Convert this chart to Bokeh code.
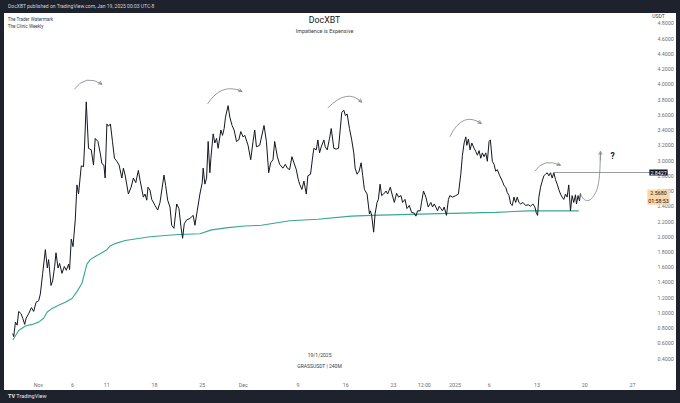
from bokeh.plotting import figure
from bokeh.models import (FixedTicker, NumeralTickFormatter, Label, Arrow, OpenHead,
                          Div, Range1d)
from bokeh.layouts import column, row
from bokeh.embed import file_html
from bokeh.resources import INLINE
from bokeh.core.properties import value

# ---------------- data (days since 2024-11-01 00:00, price in USDT) ----------------
price_day = [-3.75, -3.61, -3.36, -3.11, -2.88, -2.53, -2.29, -2.00, -1.80, -1.42, -1.02, -0.69,
             -0.34, 0.04, 0.29, 0.63, 1.02, 1.31, 1.50, 1.85, 2.09, 2.38, 2.58, 2.88, 3.11, 3.46,
             3.80, 4.09, 4.42, 4.57, 4.82, 5.07, 5.40, 5.65, 5.88, 6.28, 6.61, 6.76, 7.01, 7.34,
             7.74, 8.07, 8.32, 8.72, 9.05, 9.30, 9.59, 9.78, 10.03, 10.26, 10.55, 10.85, 11.14,
             11.49, 11.82, 12.22, 12.45, 12.70, 13.18, 13.58, 13.91, 14.26, 14.64, 14.89, 15.37,
             15.62, 15.87, 16.05, 16.35, 16.60, 17.08, 17.47, 17.81, 18.39, 18.64, 18.93, 19.27,
             19.52, 19.85, 20.25, 20.58, 20.88, 21.12, 21.36, 21.71, 22.19, 22.67, 22.92, 23.26,
             23.65, 23.99, 24.13, 24.38, 24.63, 24.86, 25.11, 25.26, 25.59, 25.84, 26.09, 26.32,
             26.72, 26.96, 27.20, 27.40, 27.78, 28.03, 28.36, 28.66, 29.01, 29.34, 29.64, 29.97,
             30.22, 30.70, 31.09, 31.43, 31.68, 31.93, 32.41, 33.04, 33.39, 33.72, 34.01, 34.35,
             34.60, 34.99, 35.33, 35.81, 36.16, 36.45, 36.79, 37.12, 37.42, 37.77, 38.00, 38.25,
             38.58, 38.88, 39.23, 39.46, 39.85, 40.19, 40.34, 40.69, 40.92, 41.17, 41.42, 41.80,
             42.00, 42.29, 42.63, 42.88, 43.26, 43.61, 43.94, 44.19, 44.42, 44.72, 44.96, 45.21,
             45.55, 45.88, 46.18, 46.38, 46.67, 46.96, 47.26, 47.49, 47.74, 48.13, 48.47, 48.61,
             48.80, 49.09, 49.30, 49.59, 49.78, 50.03, 50.26, 50.55, 50.91, 51.14, 51.53, 51.78,
             52.12, 52.45, 52.74, 53.09, 53.33, 53.68, 53.97, 54.31, 54.64, 55.04, 55.28, 55.52,
             55.91, 56.10, 56.39, 56.74, 57.08, 57.47, 57.71, 57.96, 58.20, 58.44, 58.69, 58.93,
             59.17, 59.42, 59.75, 60.04, 60.25, 60.63, 61.12, 61.50, 61.85, 62.09, 62.34, 62.58,
             62.73, 62.96, 63.21, 63.46, 63.80, 64.04, 64.28, 64.53, 64.77, 65.01, 65.26, 65.50,
             65.74, 65.99, 66.18, 66.47, 66.72, 66.96, 67.20, 67.55, 67.93, 68.18, 68.42, 68.66,
             68.91, 69.15, 69.39, 69.64, 69.88, 70.12, 70.36, 70.61, 70.95, 71.34, 71.72, 72.07,
             72.41, 72.70, 72.89, 73.09, 73.28, 73.53, 73.77, 74.01, 74.26, 74.50, 74.74, 74.99,
             75.23, 75.47, 75.72, 75.96, 76.20, 76.45, 76.69, 76.93, 77.18, 77.42, 77.66, 77.91,
             78.15, 78.39, 78.64, 78.79, 79.02, 79.23, 79.37]
price = [0.73, 0.69, 0.88, 0.84, 1.02, 0.99, 0.93, 0.85, 0.93, 0.99, 1.07, 1.02,
         1.14, 1.16, 1.25, 1.52, 1.83, 1.59, 1.70, 1.36, 1.42, 1.61, 1.79, 1.59, 1.65, 1.52,
         1.61, 1.56, 1.64, 1.57, 1.97, 1.87, 2.22, 2.68, 2.56, 2.93, 2.92, 3.19, 3.77, 3.16,
         3.14, 2.94, 3.29, 3.25, 3.10, 2.96, 2.94, 2.77, 3.48, 3.45, 3.48, 3.25, 3.03,
         2.99, 2.94, 2.77, 2.90, 2.81, 2.56, 2.65, 2.77, 2.71, 2.87, 2.74, 2.52,
         2.56, 2.48, 2.65, 2.61, 2.49, 2.41, 2.35, 2.45, 2.81, 2.67, 2.48, 2.39,
         2.15, 2.11, 2.43, 2.37, 2.13, 1.98, 2.17, 2.22, 2.24, 2.28, 2.15, 2.34,
         2.56, 2.71, 2.90, 2.69, 2.77, 3.25, 2.84, 3.03, 3.35, 3.23, 3.29, 3.16,
         3.40, 3.33, 3.42, 3.57, 3.72, 3.57, 3.46, 3.40, 3.25, 3.27, 3.38, 3.31,
         3.33, 3.20, 3.01, 3.25, 3.40, 3.18, 3.20, 3.46, 3.25, 2.84, 2.97, 3.01,
         3.25, 3.05, 2.95, 2.90, 2.95, 2.90, 2.88, 3.05, 2.97, 2.88, 2.77, 2.69,
         2.62, 2.73, 2.56, 2.80, 2.82, 3.07, 3.16, 3.14, 3.27, 3.10, 3.18, 3.27,
         3.18, 3.14, 3.29, 3.42, 3.16, 3.15, 3.16, 3.40, 3.63, 3.66, 3.59, 3.61,
         3.42, 3.27, 3.10, 2.90, 2.82, 2.86, 2.97, 2.80, 2.62, 2.56, 2.30, 2.34,
         2.28, 2.06, 2.30, 2.45, 2.49, 2.69, 2.54, 2.56, 2.60, 2.56, 2.65, 2.56,
         2.45, 2.57, 2.52, 2.54, 2.45, 2.49, 2.37, 2.41, 2.32, 2.31, 2.27, 2.34,
         2.34, 2.45, 2.60, 2.52, 2.39, 2.45, 2.39, 2.43, 2.39, 2.34, 2.40, 2.37,
         2.34, 2.39, 2.28, 2.49, 2.54, 2.52, 2.54, 2.56, 2.82, 3.07, 3.23, 3.31,
         3.20, 3.28, 3.14, 3.23, 3.16, 3.12, 3.07, 3.13, 3.03, 3.10, 3.05, 3.10,
         2.99, 3.25, 3.27, 2.99, 2.95, 2.86, 2.88, 2.80, 2.73, 2.67, 2.65, 2.58,
         2.54, 2.43, 2.41, 2.52, 2.45, 2.52, 2.45, 2.43, 2.45, 2.41, 2.42, 2.40,
         2.43, 2.39, 2.32, 2.28, 2.52, 2.65, 2.73, 2.80, 2.82, 2.84, 2.80, 2.84,
         2.77, 2.84, 2.75, 2.69, 2.62, 2.56, 2.52, 2.49, 2.56, 2.52, 2.68, 2.34,
         2.54, 2.45, 2.55, 2.43, 2.54, 2.47, 2.568]

vwap_day = [-3.75, -2.88, -1.90, -0.92, 0.04, 0.77, 1.27, 2.00, 2.96, 3.94, 4.92, 5.65, 6.38,
            7.11, 7.59, 8.32, 9.30, 10.03, 10.51, 11.24, 12.70, 14.16, 16.35, 20.48, 23.65,
            25.36, 27.78, 30.22, 32.66, 36.79, 40.92, 45.80, 48.72, 57.23, 62.04, 66.96, 71.82,
            79.12]
vwap = [0.645, 0.77, 0.83, 0.85, 0.88, 0.93, 1.01, 1.06, 1.10, 1.14, 1.19, 1.28, 1.39,
        1.64, 1.70, 1.74, 1.79, 1.83, 1.88, 1.91, 1.95, 1.97, 2.00, 2.03, 2.04,
        2.09, 2.12, 2.14, 2.15, 2.21, 2.23, 2.27, 2.28, 2.30, 2.31, 2.32, 2.34, 2.34]

y_ticks = [0.4, 0.6, 0.8, 1.0, 1.2, 1.4, 1.6, 1.8, 2.0, 2.2, 2.4, 2.6, 2.8, 3.0, 3.2, 3.4,
           3.6, 3.8, 4.0, 4.2, 4.4, 4.6, 4.8]
x_tick_days = [0, 5, 10, 17, 24, 30, 38, 45, 52, 56.5, 61, 66, 73, 80, 87]
x_tick_labels = ["Nov", "6", "11", "18", "25", "Dec", "9", "16", "23", "12:00", "2025",
                 "6", "13", "20", "27"]

last_price = 2.5680
level_price = 2.8427
level_start_day = 75.47

# hand-drawn arcs above the peaks: start, control, end (day, price)
arc_x0 = [5.26, 24.77, 42.38, 60.25, 72.70]
arc_y0 = [3.935, 3.742, 3.690, 3.312, 2.861]
arc_cx = [6.94, 26.80, 45.28, 62.12, 73.95]
arc_cy = [4.140, 4.028, 3.955, 3.656, 3.036]
arc_x1 = [9.30, 29.83, 47.34, 64.86, 76.45]
arc_y1 = [4.000, 3.906, 3.764, 3.484, 2.938]

# ---------------- styling ----------------
DARK = "#1e222d"
INK = "#131722"
AX = "#6b6e79"
GREY = "#80838d"
TXT = "#3a3d48"
FONT = "Roboto"
SCALE_X = 90.8           # centre of the price scale column, in days

p = figure(width=672, height=377, x_range=Range1d(-4.96, 93.14), y_range=Range1d(0.232, 4.929),
           y_axis_location="right", output_backend="svg", toolbar_location=None,
           min_border_left=0, min_border_top=0, min_border_right=0, min_border_bottom=13,
           background_fill_color="white", border_fill_color="white", outline_line_color=None)
p.xgrid.visible = False
p.ygrid.visible = False

for ax in (p.xaxis[0], p.yaxis[0]):
    ax.axis_line_color = None
    ax.major_tick_line_color = None
    ax.minor_tick_line_color = None
    ax.major_label_text_font_size = "5.3px"
    ax.major_label_text_color = AX
    ax.major_label_text_font = FONT

p.xaxis.major_label_standoff = 4
p.yaxis.major_label_standoff = -23      # draw the price scale inside the right strip
p.xaxis.ticker = FixedTicker(ticks=x_tick_days)
p.xaxis.major_label_overrides = {k: v for k, v in zip(x_tick_days, x_tick_labels)}
p.yaxis.ticker = FixedTicker(ticks=y_ticks)
p.yaxis.formatter = NumeralTickFormatter(format="0.0000")

p.line(vwap_day, vwap, line_color="#38a88f", line_width=1.1)
p.line(price_day, price, line_color=INK, line_width=1.0)

# level line from the last swing high
p.segment(x0=[level_start_day], y0=[level_price], x1=[SCALE_X - 1], y1=[level_price],
          line_color=GREY, line_width=0.8)

# arcs with arrow heads
p.quadratic(x0=arc_x0, y0=arc_y0, x1=arc_x1, y1=arc_y1, cx=arc_cx, cy=arc_cy,
            line_color=GREY, line_width=0.8)
for x0, y0, cx, cy, x1, y1 in zip(arc_x0, arc_y0, arc_cx, arc_cy, arc_x1, arc_y1):
    p.add_layout(Arrow(end=OpenHead(size=3.5, line_color=GREY, line_width=0.8),
                       x_start=x1 - 0.2 * (x1 - cx), y_start=y1 - 0.2 * (y1 - cy),
                       x_end=x1, y_end=y1, line_color=GREY, line_width=0.8))

# projected path
p.bezier(x0=[79.37, 81.40], y0=[2.568, 2.55], x1=[81.40, 82.29], y1=[2.55, 3.12],
         cx0=[79.90, 82.00], cy0=[2.44, 2.63], cx1=[80.80, 82.25], cy1=[2.45, 2.75],
         line_color=GREY, line_width=0.8)
p.add_layout(Arrow(end=OpenHead(size=3.5, line_color=GREY, line_width=0.8),
                   x_start=82.28, y_start=3.0, x_end=82.29, y_end=3.12,
                   line_color=GREY, line_width=0.8))
p.add_layout(Label(x=84.09, y=3.058, text="?", text_font=FONT, text_font_style="bold",
                   text_font_size="8.5px", text_color=INK, text_align="center",
                   text_baseline="middle"))

# texts
def lab(x, y, t, size, color=INK, align="center", style="normal"):
    p.add_layout(Label(x=x, y=y, text=t, text_font=FONT, text_font_size=size,
                       text_color=color, text_align=align, text_baseline="middle",
                       text_font_style=style))

lab(41.9, 4.839, "DocXBT", "8.8px")
lab(41.9, 4.697, "Impatience is Expensive", "5.4px", color=TXT)
lab(-4.5, 4.85, "The Trader Watermark", "4.6px", color=TXT, align="left")
lab(-4.5, 4.761, "The Clinic Weekly", "4.6px", color=TXT, align="left")
lab(41.17, 0.452, "19/1/2025", "5px", color=TXT)
lab(41.17, 0.31, "GRASSUSDT | 240M", "5px", color=TXT)
p.add_layout(Label(x=SCALE_X, y=4.89, text="USDT", text_font=FONT, text_font_size="5px",
                   text_color=TXT, text_align="center", text_baseline="middle",
                   background_fill_color="white"))

p.add_layout(Label(x=SCALE_X, y=level_price, text=f"{level_price:.4f}", text_font=FONT,
                   text_font_size="5.3px", text_color="white", text_align="center",
                   text_baseline="middle", background_fill_color=INK, padding=1))
p.add_layout(Label(x=SCALE_X, y=last_price, text=f"{last_price:.4f}\n01:58:53", text_font=FONT,
                   text_font_size="5.3px", text_color=INK, text_align="center",
                   text_baseline="top", background_fill_color="#fbd7a8", padding=1,
                   y_offset=4))

top = Div(text='<span style="margin-left:8px">DocXBT published on TradingView.com, Jan 19, 2025 00:03 UTC-8</span>',
          width=680, height=13, margin=0,
          styles={"background-color": DARK, "color": "#d1d4dc", "font-size": "5px",
                  "line-height": "13px", "font-family": FONT, "overflow": "hidden"})
bottom = Div(text='<span style="margin-left:8px"><b>TV</b> TradingView</span>',
             width=680, height=13, margin=0,
             styles={"background-color": DARK, "color": "#e8e8ec", "font-size": "5.5px",
                     "line-height": "13px", "font-family": FONT, "overflow": "hidden"})
left = Div(text="", width=4, height=377, margin=0, styles={"background-color": DARK})
right = Div(text="", width=4, height=377, margin=0, styles={"background-color": DARK})

layout = column(top, row(left, p, right, spacing=0), bottom, spacing=0)

open("out.html", "w").write(file_html(layout, INLINE))
